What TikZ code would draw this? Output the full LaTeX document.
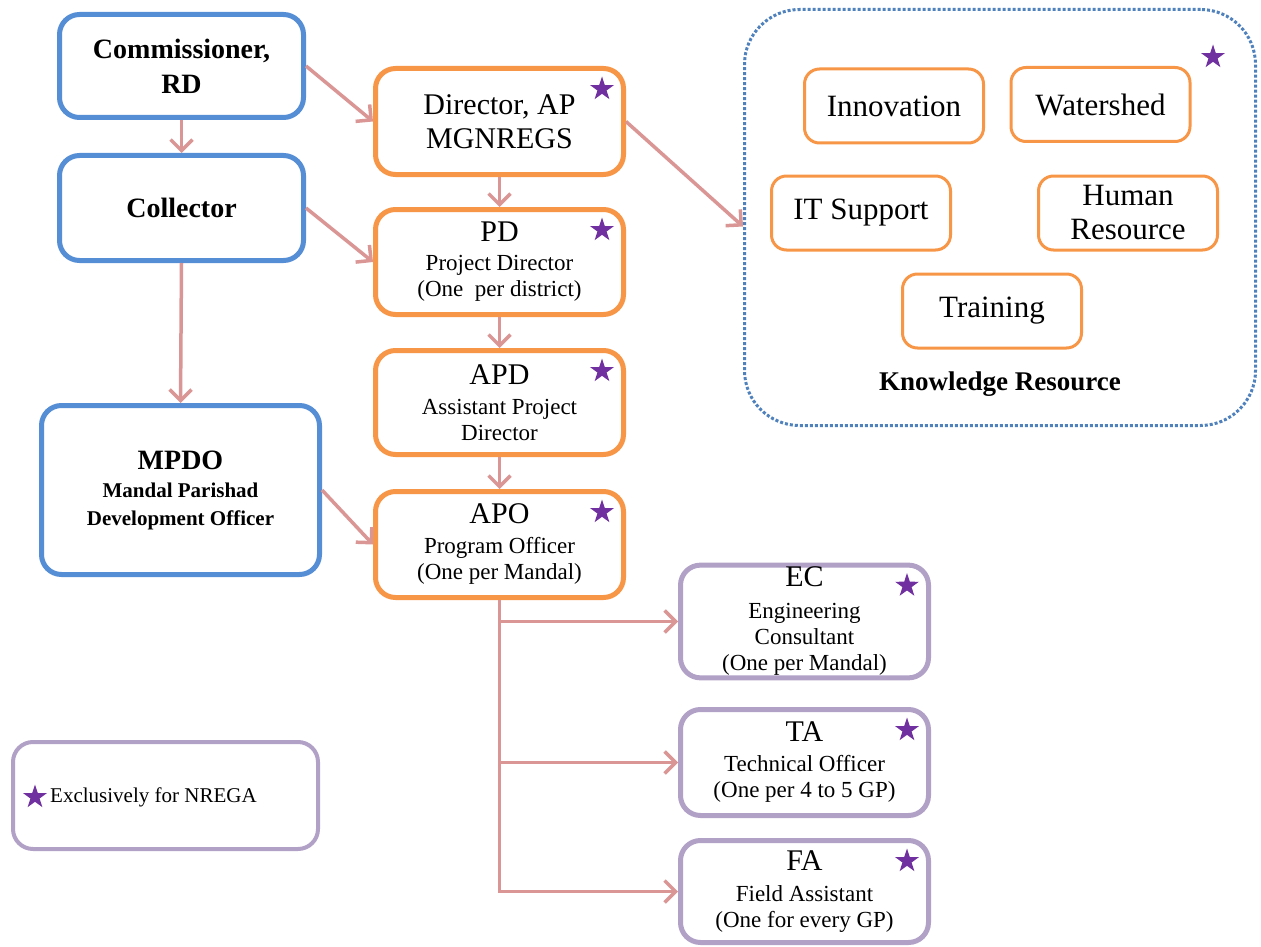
\documentclass[tikz,border=0pt]{standalone}
\usepackage{fontspec}
\setmainfont{Liberation Serif}
\usepackage{tikz}
\usetikzlibrary{arrows.meta,shapes.geometric,positioning}
\usepackage{xcolor}
\definecolor{rdblue}{RGB}{85,142,213}
\definecolor{kroutline}{RGB}{79,129,189}
\definecolor{aporange}{RGB}{247,150,70}
\definecolor{fieldpurple}{RGB}{178,161,199}
\definecolor{starpurple}{RGB}{112,48,160}
\definecolor{linkpink}{RGB}{217,150,148}
\newcommand{\govfont}{\fontsize{28}{35}\selectfont}
\newcommand{\headfont}{\fontsize{30}{34}\selectfont}
\newcommand{\subfont}{\fontsize{23}{26}\selectfont}
\newcommand{\krfont}{\fontsize{31}{34}\selectfont}
\tikzstyle{arrow} = [line width=3.5pt, -{Straight Barb[length=11pt,width=22pt]}, color=linkpink]
\tikzstyle{govbox} = [rectangle, rounded corners=20pt, draw=rdblue, line width=5pt, fill=white, align=center, inner sep=2pt]
\tikzstyle{nregabox} = [govbox, draw=aporange, minimum width=248pt, font=\subfont]
\tikzstyle{fieldbox} = [govbox, draw=fieldpurple, minimum width=248pt, font=\subfont]
\tikzstyle{krbox} = [rectangle, rounded corners=15pt, draw=aporange, line width=3pt, align=center, minimum width=179pt, minimum height=74pt, font=\krfont]
\tikzstyle{nregastar} = [star, star points=5, star point ratio=2.6, fill=starpurple, minimum size=25pt, inner sep=0pt]

\begin{document}
\begin{tikzpicture}[x=1pt, y=-1pt]
\useasboundingbox (0,0) rectangle (1261,947);

% Government line
\node (comm) [govbox, minimum width=244pt, minimum height=103pt, font=\govfont\bfseries] at (181.5,66) {Commissioner,\\RD};
\node (coll) [govbox, minimum width=244pt, minimum height=105pt, font=\govfont\bfseries] at (181.5,208) {Collector};
\node (mpdo) [govbox, minimum width=278pt, minimum height=169pt, font=\fontsize{21}{28}\selectfont\bfseries] at (180.5,490) {{\govfont MPDO}\\Mandal Parishad\\Development Officer};

% MGNREGS line
\node (dir) [nregabox, minimum height=106pt, font=\headfont] at (499.5,121.5) {Director, AP\\MGNREGS};
\node (pd) [nregabox, minimum height=105pt] at (499.5,262) {{\headfont PD}\\[3pt]Project Director\\(One~ per district)};
\node (apd) [nregabox, minimum height=104pt] at (499.5,402.5) {{\headfont APD}\\[4pt]Assistant Project\\Director};
\node (apo) [nregabox, minimum height=106pt] at (499.5,544.5) {{\headfont APO}\\[4pt]Program Officer\\(One per Mandal)};

% Field staff
\node (ec) [fieldbox, minimum height=106pt] at (804.5,621.5) {{\headfont EC}\\[6pt]Engineering\\Consultant\\(One per Mandal)};
\node (ta) [fieldbox, minimum height=106pt] at (804.5,762.5) {{\headfont TA}\\[4pt]Technical Officer\\(One per 4 to 5 GP)};
\node (fa) [fieldbox, minimum height=102pt] at (804.5,891.5) {{\headfont FA}\\[5pt]Field Assistant\\(One for every GP)};

% Knowledge resource
\node (kr) [draw=kroutline, line width=3pt, dash pattern=on 3pt off 2pt, rounded corners=55pt, minimum width=511pt, minimum height=416pt] at (1000,217.5) {};
\node (innov) [krbox] at (894,106) {Innovation};
\node (water) [krbox] at (1100.5,104.5) {Watershed};
\node (itsup) [krbox] at (861,213) {IT Support};
\node (human) [krbox] at (1128,213) {Human\\Resource};
\node (train) [krbox] at (992,311) {Training};
\node (krlabel) [font=\fontsize{27}{30}\selectfont\bfseries] at (1000,384) {Knowledge Resource};

% Legend
\node (legend) [fieldbox, line width=4pt, minimum width=305pt, minimum height=107pt] at (165.5,795.5) {};
\node (legstar) [nregastar] at (35,797) {};
\node (legtext) [anchor=west, inner sep=0pt, font=\fontsize{21}{24}\selectfont] at (50,797) {Exclusively for NREGA};

% Stars
\foreach \b in {dir,pd,apd,apo,ec,ta,fa}
  \node (star-\b) [nregastar] at ([xshift=-24pt,yshift=-23pt]\b.north east) {};
\node (star-kr) [nregastar] at ([xshift=-44pt,yshift=-49pt]kr.north east) {};

% Links
\draw[arrow] (comm.south) -- (coll.north);
\draw[arrow] (coll.south) -- (mpdo.north);
\draw[arrow] (comm.east) -- (dir.west);
\draw[arrow] (coll.east) -- (pd.west);
\draw[arrow] (mpdo.east) -- (apo.west);
\draw[arrow] (dir.east) -- ([yshift=-9pt]kr.west);
\draw[arrow] (dir.south) -- (pd.north);
\draw[arrow] (pd.south) -- (apd.north);
\draw[arrow] (apd.south) -- (apo.north);
\draw[arrow] (apo.south) |- (ec.west);
\draw[arrow] (apo.south) |- (ta.west);
\draw[arrow] (apo.south) |- (fa.west);

\end{tikzpicture}
\end{document}
